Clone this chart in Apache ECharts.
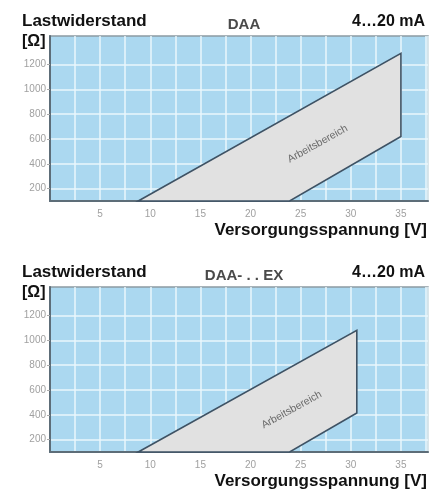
<!DOCTYPE html>
<html><head><meta charset="utf-8">
<script src="https://cdn.jsdelivr.net/npm/echarts@6/dist/echarts.min.js"></script>
<style>html,body{margin:0;padding:0;background:#fff}#c{width:438px;height:495px}</style>
</head><body><div id="c"></div>
<script>
// Data
const xTickLabels = [5, 10, 15, 20, 25, 30, 35];
const yTickLabels = [200, 400, 600, 800, 1000, 1200];
const titles = ['DAA', 'DAA- . . EX'];
// Working range polygons [U (V), R (Ohm)]
const areaDAA = [[8.8, 100], [35, 1290], [35, 620], [23.9, 100]];
const areaEX = [[8.8, 100], [30.6, 1080], [30.6, 415], [23.9, 100]];
const areaLabelDAA = [26.7, 560];
const areaLabelEX = [24.1, 440];
const xMin = 0, xMax = 37.7, yMin = 100, yMax = 1430;

const FONT = '"Liberation Sans", Arial, sans-serif';
const grids = [
  {left: 50, top: 36, width: 378, height: 165},
  {left: 50, top: 287, width: 378, height: 165}
];

function xAx(i) {
  return {
    type: 'value', gridIndex: i, min: xMin, max: xMax, interval: 2.5,
    axisLine: {show: true, onZero: false, lineStyle: {color: '#5d6d78', width: 2}},
    axisTick: {show: false},
    axisLabel: {customValues: xTickLabels, color: '#a0a0a0', fontSize: 10, fontFamily: FONT, margin: 8, formatter: v => String(v)},
    splitLine: {show: true, lineStyle: {color: '#eaf7fd', width: 1.5}}
  };
}
function yAx(i) {
  return {
    type: 'value', gridIndex: i, min: yMin, max: yMax, interval: 200,
    axisLine: {show: true, onZero: false, lineStyle: {color: '#5d6d78', width: 2}},
    axisTick: {show: true, customValues: yTickLabels, length: 3, lineStyle: {color: '#aaaaaa'}},
    axisLabel: {customValues: yTickLabels, color: '#a0a0a0', fontSize: 10, fontFamily: FONT, margin: 4, formatter: v => String(v)},
    splitLine: {show: true, lineStyle: {color: '#eaf7fd', width: 1.5}}
  };
}

function polySeries(i, pts) {
  return {
    type: 'custom', xAxisIndex: i, yAxisIndex: i,
    data: [0],
    renderItem: function (params, api) {
      const p = pts.map(d => api.coord(d));
      return {
        type: 'polygon',
        shape: {points: p},
        style: {fill: '#e1e1e1', stroke: '#3e5264', lineWidth: 1.6}
      };
    },
    z: 3
  };
}
function labelSeries(i, pos) {
  return {
    type: 'custom', xAxisIndex: i, yAxisIndex: i,
    data: [pos],
    renderItem: function (params, api) {
      const c = api.coord([api.value(0), api.value(1)]);
      return {
        type: 'text', x: c[0], y: c[1], rotation: 29 * Math.PI / 180,
        style: {text: 'Arbeitsbereich', fill: '#6a6a6a', font: '10.5px ' + FONT, align: 'center', verticalAlign: 'middle'}
      };
    },
    z: 4
  };
}

const texts = [];
[0, 251].forEach((dy, i) => {
  texts.push({type: 'text', x: 22, y: 21 + dy, style: {text: 'Lastwiderstand', font: 'bold 17px ' + FONT, fill: '#111', verticalAlign: 'middle'}});
  texts.push({type: 'text', x: 22, y: 42 + dy, style: {text: '[Ω]', font: 'bold 16px ' + FONT, fill: '#111', verticalAlign: 'middle'}});
  texts.push({type: 'text', x: 244, y: 25 + dy, style: {text: titles[i], font: 'bold 15px ' + FONT, fill: '#4a4a4a', align: 'center', verticalAlign: 'middle'}});
  texts.push({type: 'text', x: 425, y: 22 + dy, style: {text: '4…20 mA', font: 'bold 16px ' + FONT, fill: '#111', align: 'right', verticalAlign: 'middle'}});
  texts.push({type: 'text', x: 427, y: 230 + dy, style: {text: 'Versorgungsspannung [V]', font: 'bold 17px ' + FONT, fill: '#111', align: 'right', verticalAlign: 'middle'}});
});

const chart = echarts.init(document.getElementById('c'));
chart.setOption({
  animation: false,
  grid: grids.map(g => Object.assign({show: true, backgroundColor: '#abd8f0', borderColor: '#8c9aa3', borderWidth: 1.5, containLabel: false}, g)),
  xAxis: [xAx(0), xAx(1)],
  yAxis: [yAx(0), yAx(1)],
  series: [polySeries(0, areaDAA), polySeries(1, areaEX), labelSeries(0, areaLabelDAA), labelSeries(1, areaLabelEX)],
  graphic: texts
});
</script></body></html>
